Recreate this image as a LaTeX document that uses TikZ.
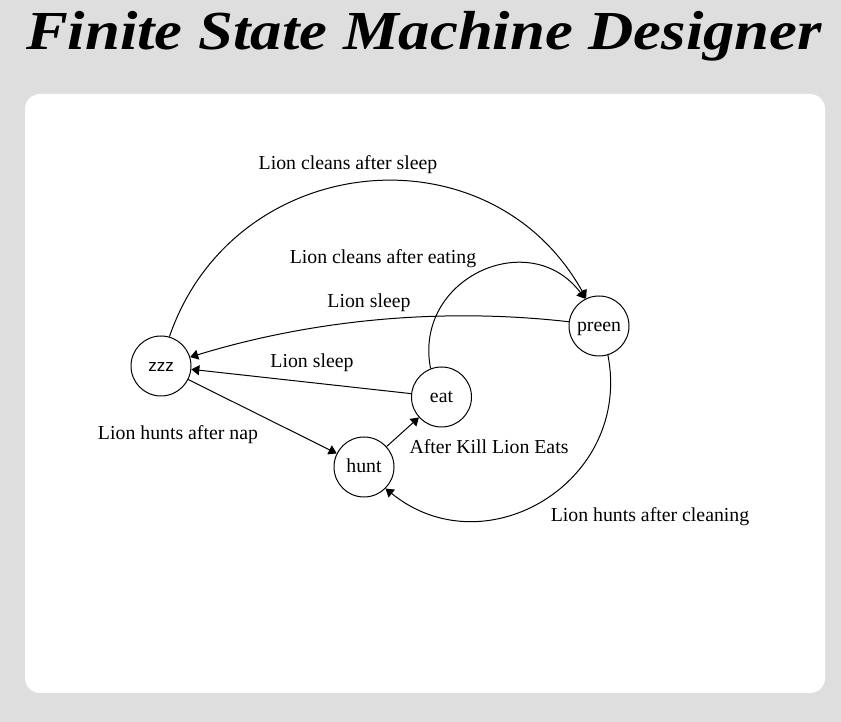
\documentclass[tikz,border=0pt]{standalone}
\usepackage{fontspec}
\setmainfont{Liberation Serif}
\newfontfamily\zzzfont{Liberation Sans}
\usetikzlibrary{arrows.meta}
\definecolor{pagegrey}{HTML}{DEDEDE}

\begin{document}
\begin{tikzpicture}[x=1pt, y=1pt, line width=1pt, >={Triangle[length=8pt,width=10pt]},
	every node/.style={font=\fontsize{19.8}{22}\selectfont},
	state/.style={draw, circle, minimum size=60pt, inner sep=0pt, text height=14pt, text depth=2pt},
	lbl/.style={anchor=base, inner sep=0pt}]
	% page and canvas
	\fill[pagegrey] (0,0) rectangle (841,722);
	\fill[white, rounded corners=15pt] (25,29) rectangle (825,628);
	\node[anchor=base, inner sep=0pt, font=\fontsize{55}{60}\selectfont\bfseries\itshape] (title) at (424,672) {\scalebox{1.14}[1]{Finite State Machine Designer}};
	% states
	\node[state, font=\zzzfont\fontsize{17}{20}\selectfont] (zzz) at (161,356) {zzz};
	\node[state] (preen) at (599,396) {preen};
	\node[state] (eat) at (441.5,325) {eat};
	\node[state] (hunt) at (364,255) {hunt};
	% transitions
	\draw[->] (zzz.74.8) to[out=71, in=119, looseness=1.21] (preen.115.5);
	\draw[->] (eat.111.2) to[out=101, in=127, looseness=1.39] (preen.117.3);
	\draw[->] (preen.172.6) to[out=173.5, in=17, looseness=0.86] (zzz.17.9);
	\draw[->] (preen.287.5) to[out=-79, in=-39, looseness=1.27] (hunt.-45.6);
	\draw[->] (eat) -- (zzz);
	\draw[->] (zzz) -- (hunt);
	\draw[->] (hunt) -- (eat);
	% labels
	\node[lbl] (cleansleep) at (348,552.5) {Lion cleans after sleep};
	\node[lbl] (cleaneat) at (383,458) {Lion cleans after eating};
	\node[lbl] (sleeppreen) at (369,414) {Lion sleep};
	\node[lbl] (sleepeat) at (312,354) {Lion sleep};
	\node[lbl] (huntnap) at (178,282) {Lion hunts after nap};
	\node[lbl] (killeat) at (489,268.7) {After Kill Lion Eats};
	\node[lbl] (huntclean) at (650,200.3) {Lion hunts after cleaning};
\end{tikzpicture}
\end{document}
